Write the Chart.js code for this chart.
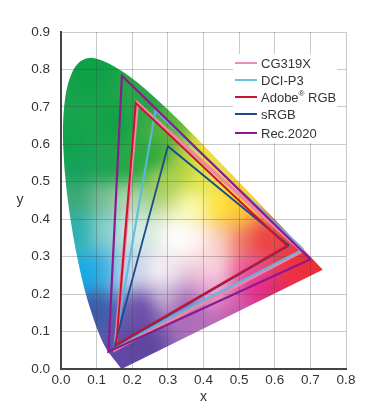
<!DOCTYPE html>
<html>
<head>
<meta charset="utf-8">
<title>Colour gamuts</title>
<script src="https://cdn.jsdelivr.net/npm/chart.js@4"></script>
<style>
  body { margin: 0; background: #fff; }
  canvas { display: block; }
</style>
</head>
<body>
<canvas id="gamutChart" width="380" height="409"></canvas>
<script>
// Spectral locus
const locusX = [0.17, 0.133, 0.1241, 0.1096, 0.0913, 0.0687, 0.0454, 0.0235, 0.0082, 0.0039, 0.0139, 0.0389, 0.0743, 0.1142, 0.1547, 0.1929, 0.2296, 0.3016, 0.3731, 0.4441, 0.5125, 0.5752, 0.627, 0.6658, 0.6915, 0.7079, 0.719, 0.7347];
const locusY = [0, 0.045, 0.0578, 0.0868, 0.1327, 0.2007, 0.295, 0.4127, 0.5384, 0.6548, 0.7502, 0.812, 0.8338, 0.8262, 0.8059, 0.7816, 0.7543, 0.6923, 0.6245, 0.5547, 0.4866, 0.4242, 0.3725, 0.334, 0.3083, 0.292, 0.2809, 0.2653];

// Gamut triangles
const cg319xX = [0.677, 0.214, 0.152, 0.677];
const cg319xY = [0.315, 0.71, 0.052, 0.315];
const dciX = [0.68, 0.265, 0.15, 0.68];
const dciY = [0.32, 0.69, 0.06, 0.32];
const adobeX = [0.634, 0.21, 0.155, 0.634];
const adobeY = [0.329, 0.71, 0.065, 0.329];
const srgbX = [0.64, 0.3, 0.15, 0.64];
const srgbY = [0.33, 0.595, 0.06, 0.33];
const rec2020X = [0.7, 0.171, 0.133, 0.7];
const rec2020Y = [0.293, 0.783, 0.046, 0.293];

const xTicks = [0, 0.1, 0.2, 0.3, 0.4, 0.5, 0.6, 0.7, 0.8];
const yTicks = [0, 0.1, 0.2, 0.3, 0.4, 0.5, 0.6, 0.7, 0.8, 0.9];

// Colours of the horseshoe at a few places, blended between them
const fieldX = [0.08, 0.02, 0.15, 0.05, 0.13, 0.2, 0.26, 0.053, 0.118, 0.185, 0.278, 0.053, 0.118, 0.2, 0.326, 0.418, 0.08, 0.118, 0.185, 0.278, 0.1, 0.23, 0.278, 0.354, 0.4, 0.23, 0.17, 0.427, 0.55, 0.475, 0.652, 0.567, 0.503, 0.455, 0.382, 0.447, 0.483, 0.37, 0.382, 0.343, 0.5, 0.427, 0.522, 0.3, 0.4, 0.7, 0.6, 0.5, 0.25];
const fieldY = [0.8, 0.6, 0.65, 0.535, 0.535, 0.535, 0.567, 0.46, 0.46, 0.46, 0.505, 0.372, 0.372, 0.372, 0.353, 0.326, 0.256, 0.256, 0.256, 0.256, 0.166, 0.166, 0.203, 0.166, 0.104, 0.07, 0.02, 0.211, 0.22, 0.166, 0.256, 0.345, 0.345, 0.345, 0.345, 0.433, 0.406, 0.433, 0.505, 0.532, 0.45, 0.272, 0.265, 0.65, 0.58, 0.28, 0.2, 0.12, 0.72];
const fieldRGB = [
  [14, 161, 72], [15, 163, 76], [16, 163, 70], [20, 160, 90], [24, 162, 76], [34, 168, 66], [42, 168, 60],
  [63, 168, 120], [124, 191, 152], [181, 216, 176], [168, 208, 96], [43, 176, 176], [136, 207, 208], [216, 238, 234],
  [255, 255, 255], [251, 216, 216], [16, 170, 234], [64, 176, 224], [200, 216, 238], [246, 240, 246],
  [60, 88, 168], [106, 72, 168], [200, 184, 216], [168, 104, 184], [176, 112, 184], [92, 68, 160], [96, 72, 164],
  [232, 168, 216], [232, 42, 144], [216, 96, 176], [238, 48, 64], [236, 64, 64], [238, 112, 96], [250, 200, 184],
  [255, 248, 248], [255, 232, 56], [253, 192, 64], [251, 251, 176], [228, 232, 80], [176, 208, 64], [251, 208, 48],
  [249, 208, 224], [232, 85, 154], [90, 180, 60], [240, 224, 64], [237, 46, 51], [226, 40, 110], [150, 90, 170], [40, 165, 70]
];

function pointsOf(xs, ys) {
  return xs.map((x, i) => ({ x: x, y: ys[i] }));
}

// Paints the horseshoe under the grid, clipped to the locus
const locusPlugin = {
  id: 'locus',
  beforeDraw(chart) {
    const sx = chart.scales.x, sy = chart.scales.y, area = chart.chartArea;
    const margin = 24;
    const w = Math.round(area.right - area.left) + margin * 2, h = Math.round(area.bottom - area.top) + margin * 2;
    const off = document.createElement('canvas');
    off.width = w;
    off.height = h;
    const octx = off.getContext('2d');
    const img = octx.createImageData(w, h);
    for (let j = 0; j < h; j++) {
      const vy = sy.getValueForPixel(area.top - margin + j);
      for (let i = 0; i < w; i++) {
        const vx = sx.getValueForPixel(area.left - margin + i);
        let r = 0, g = 0, b = 0, total = 0;
        for (let k = 0; k < fieldX.length; k++) {
          const d = (vx - fieldX[k]) ** 2 + (vy - fieldY[k]) ** 2 + 0.0004;
          const weight = 1 / (d * d);
          r += fieldRGB[k][0] * weight;
          g += fieldRGB[k][1] * weight;
          b += fieldRGB[k][2] * weight;
          total += weight;
        }
        const p = (j * w + i) * 4;
        img.data[p] = r / total;
        img.data[p + 1] = g / total;
        img.data[p + 2] = b / total;
        img.data[p + 3] = 255;
      }
    }
    octx.putImageData(img, 0, 0);

    // smooth outline through the locus points, straight along the bottom
    const px = locusX.map(v => sx.getPixelForValue(v));
    const py = locusY.map(v => sy.getPixelForValue(v));
    const ctx = chart.ctx;
    ctx.save();
    ctx.beginPath();
    ctx.moveTo(px[0], py[0]);
    ctx.lineTo(px[1], py[1]);
    for (let i = 2; i < px.length - 1; i++) {
      ctx.quadraticCurveTo(px[i], py[i], (px[i] + px[i + 1]) / 2, (py[i] + py[i + 1]) / 2);
    }
    ctx.lineTo(px[px.length - 1], py[py.length - 1]);
    ctx.closePath();
    ctx.clip();
    ctx.filter = 'blur(7px)';
    ctx.drawImage(off, area.left - margin, area.top - margin);
    ctx.restore();
  },
  afterDraw(chart) {
    const ctx = chart.ctx;
    ctx.save();
    // upright y title
    ctx.font = '14px "Liberation Sans"';
    ctx.fillStyle = '#333';
    ctx.textAlign = 'center';
    ctx.textBaseline = 'middle';
    ctx.fillText('y', 20, 200);

    // legend box inside the plot
    const rows = [63, 80, 97, 114, 133];
    ctx.fillStyle = '#fff';
    ctx.fillRect(233, 54, 104, 89);
    ctx.textAlign = 'left';
    chart.data.datasets.forEach((ds, i) => {
      ctx.strokeStyle = ds.legendColor;
      ctx.lineWidth = 2;
      ctx.beginPath();
      ctx.moveTo(235, rows[i]);
      ctx.lineTo(257, rows[i]);
      ctx.stroke();
      ctx.fillStyle = '#333';
      // the registered mark sits small and raised
      let tx = 261;
      ds.label.split(/(®)/).forEach(part => {
        const mark = part === '®';
        ctx.font = mark ? '8px "Liberation Sans"' : '13px "Liberation Sans"';
        ctx.fillText(part, tx, rows[i] + (mark ? -3 : 1));
        tx += ctx.measureText(part).width;
      });
    });
    ctx.restore();
  }
};

function gamut(label, xs, ys, color, legendColor, width, order) {
  return {
    label: label,
    data: pointsOf(xs, ys),
    showLine: true,
    borderColor: color,
    legendColor: legendColor,
    borderWidth: width,
    pointRadius: 0,
    tension: 0,
    borderJoinStyle: 'miter',
    order: order
  };
}

const gridColor = 'rgba(60, 60, 60, 0.28)';
const tickFont = { family: '"Liberation Sans"', size: 13.5 };

new Chart(document.getElementById('gamutChart').getContext('2d'), {
  type: 'scatter',
  data: {
    datasets: [
      gamut('CG319X', cg319xX, cg319xY, '#ee86a8', '#ea8fbc', 3.5, 4),
      gamut('DCI-P3', dciX, dciY, 'rgba(90, 185, 225, 0.9)', '#62c3dc', 2.2, 3),
      gamut('Adobe® RGB', adobeX, adobeY, '#c8142f', '#c8142f', 2, 1),
      gamut('sRGB', srgbX, srgbY, '#1f4a8c', '#1f4a8c', 1.8, 2),
      gamut('Rec.2020', rec2020X, rec2020Y, '#8c1a8c', '#8c1a8c', 2.2, 0)
    ]
  },
  plugins: [locusPlugin],
  options: {
    responsive: false,
    animation: false,
    layout: { padding: { top: 32, right: 34 } },
    plugins: { legend: { display: false }, tooltip: { enabled: false } },
    scales: {
      x: {
        type: 'linear',
        min: xTicks[0],
        max: xTicks[xTicks.length - 1],
        afterFit(scale) { scale.height = 40; },
        afterBuildTicks(scale) { scale.ticks = xTicks.map(v => ({ value: v })); },
        grid: { color: gridColor, drawTicks: false },
        border: { color: '#444', width: 2 },
        title: { display: true, text: 'x', color: '#333', font: { family: '"Liberation Sans"', size: 14 }, padding: { top: 0, bottom: 3 } },
        ticks: { color: '#333', font: tickFont, padding: 3, maxRotation: 0, callback: v => v.toFixed(1) }
      },
      y: {
        type: 'linear',
        min: yTicks[0],
        max: yTicks[yTicks.length - 1],
        afterFit(scale) { scale.width = 61; },
        afterBuildTicks(scale) { scale.ticks = yTicks.map(v => ({ value: v })); },
        grid: { color: gridColor, drawTicks: false },
        border: { color: '#444', width: 2 },
        ticks: { color: '#333', font: tickFont, padding: 11, callback: v => v.toFixed(1) }
      }
    }
  }
});
</script>
</body>
</html>
